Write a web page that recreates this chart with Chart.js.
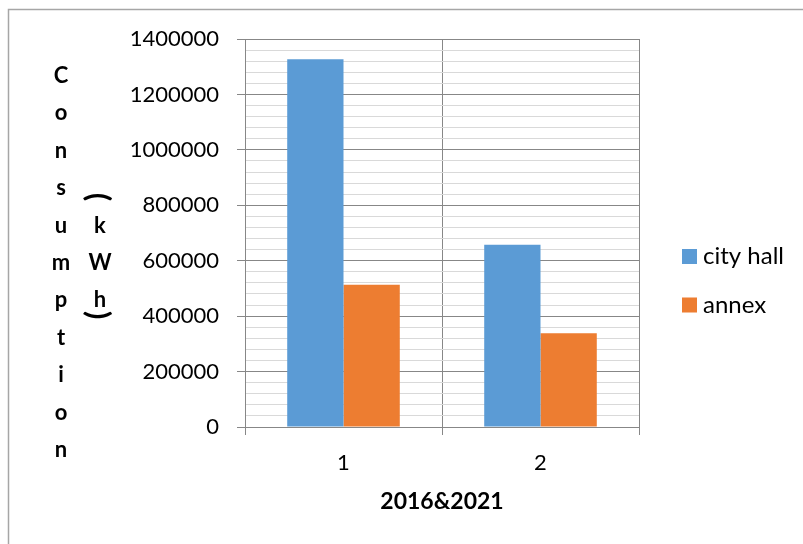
<!DOCTYPE html>
<html>
<head>
<meta charset="utf-8">
<title>Consumption (kWh)</title>
<script src="https://cdn.jsdelivr.net/npm/chart.js@4/dist/chart.umd.min.js"></script>
<style>
  html, body { margin: 0; padding: 0; background: #fff; }
  #wrap { width: 803px; height: 544px; position: relative; }
</style>
</head>
<body>
<div id="wrap"><canvas id="grafConsumo"></canvas></div>
<script>
// categorias e séries
const categorias = ['1', '2'];
const cityHall   = [1327000, 658000];
const annex      = [513000, 338000];
const rotulosY   = [0, 200000, 400000, 600000, 800000, 1000000, 1200000, 1400000];
const passoMenor = 40000;

const AZUL    = '#5B9BD5';
const LARANJA = '#ED7D31';
const GRADE_F = '#878787';
const GRADE_C = '#d9d9d9';
const FONTE   = "Lato, 'Open Sans', sans-serif";

Chart.defaults.font.family = FONTE;
Chart.defaults.color = '#000';

const eMaior = (v) => rotulosY.includes(v);

// moldura, título vertical empilhado e legenda
const extras = {
    id: 'extras',
    afterDraw(chart) {
        const ctx = chart.ctx;
        ctx.save();

        ctx.strokeStyle = '#a6a6a6';
        ctx.lineWidth = 1.5;
        ctx.strokeRect(8.5, 9.5, 900, 700);

        ctx.fillStyle = '#000';
        ctx.font = 'bold 22px ' + FONTE;
        ctx.textAlign = 'center';
        ctx.textBaseline = 'alphabetic';
        const letras = 'Consumption'.split('');
        letras.forEach((c, i) => ctx.fillText(c, 61, 83 + i * 37.4));
        [['k', 4], ['W', 5], ['h', 6]].forEach(([c, i]) => ctx.fillText(c, 100, 83 + i * 37.4));

        // parênteses girados
        ctx.font = 'bold 30px ' + FONTE;
        [['(', 197], [')', 315]].forEach(([c, y]) => {
            ctx.save();
            ctx.translate(98, y);
            ctx.rotate(Math.PI / 2);
            ctx.textBaseline = 'middle';
            ctx.fillText(c, 0, 0);
            ctx.restore();
        });

        // legenda
        ctx.font = '24px ' + FONTE;
        ctx.textAlign = 'left';
        ctx.textBaseline = 'middle';
        chart.data.datasets.forEach((ds, i) => {
            const y = 256.5 + i * 48.5;
            ctx.fillStyle = ds.backgroundColor;
            ctx.fillRect(682, y - 7.5, 15, 15);
            ctx.fillStyle = '#000';
            ctx.fillText(ds.label, 703, y);
        });
        ctx.restore();
    }
};

new Chart(document.getElementById('grafConsumo'), {
    type: 'bar',
    data: {
        labels: categorias,
        datasets: [
            { label: 'city hall', data: cityHall, backgroundColor: AZUL },
            { label: 'annex',     data: annex,    backgroundColor: LARANJA }
        ]
    },
    options: {
        responsive: true,
        maintainAspectRatio: false,
        animation: false,
        layout: { padding: { left: 0, right: 164, top: 39, bottom: 0 } },
        datasets: { bar: { categoryPercentage: 4 / 7, barPercentage: 1, borderWidth: 0 } },
        plugins: { legend: { display: false }, tooltip: { enabled: false } },
        scales: {
            x: {
                grid: { color: GRADE_F, offset: true, tickLength: 8 },
                border: { color: GRADE_F },
                ticks: { font: { size: 22 }, padding: 15 },
                title: {
                    display: true,
                    text: '2016&2021',
                    font: { size: 23, weight: 'bold' },
                    padding: { top: 0, bottom: 29 }
                },
                afterFit: (s) => { s.height = 117; }
            },
            y: {
                min: 0,
                max: 1400000,
                border: { color: GRADE_F },
                grid: {
                    tickLength: 8,
                    color: (c) => eMaior(c.tick.value) ? GRADE_F : GRADE_C,
                    tickColor: (c) => eMaior(c.tick.value) ? GRADE_F : 'rgba(0,0,0,0)'
                },
                ticks: {
                    stepSize: passoMenor,
                    autoSkip: false,
                    padding: 18,
                    font: { size: 22 },
                    callback: (v) => eMaior(v) ? String(v) : ''
                },
                afterFit: (s) => { s.width = 245; }
            }
        }
    },
    plugins: [extras]
});
</script>
</body>
</html>
